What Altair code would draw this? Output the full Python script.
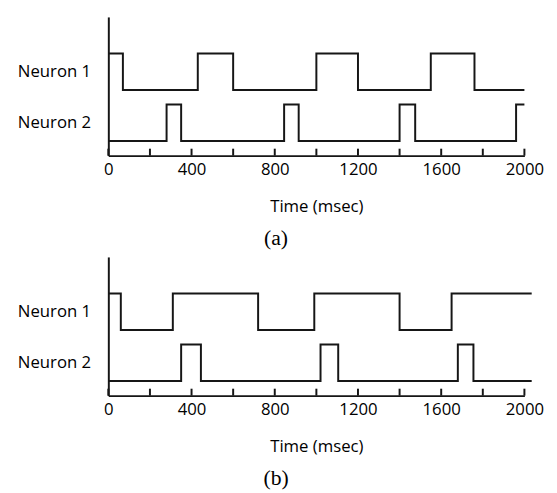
import altair as alt
import pandas as pd

# ---- data ----
TICK_TIMES = [0, 200, 400, 600, 800, 1000, 1200, 1400, 1600, 1800, 2000]
TICK_LABELS = [0, 400, 800, 1200, 1600, 2000]
NEURON_LABELS = ["Neuron 1", "Neuron 2"]
LABEL_LEVELS = [2.3, 0.9]          # vertical centre of each neuron trace
N1_LEVELS = [1.8, 2.8]             # low, high
N2_LEVELS = [0.4, 1.4]             # low, high

# panel (a): transition times (msec)
a_n1_start_high = True
a_n1_edges = [70, 430, 600, 1000, 1200, 1550, 1760]
a_n1_end = 2000
a_n2_start_high = False
a_n2_edges = [280, 350, 845, 915, 1400, 1475, 1960]
a_n2_end = 2000

# panel (b)
b_n1_start_high = True
b_n1_edges = [60, 310, 720, 990, 1400, 1650]
b_n1_end = 2035
b_n2_start_high = False
b_n2_edges = [350, 445, 1020, 1105, 1680, 1755]
b_n2_end = 2035

FONT = "Open Sans"
INK = "#161616"
TEXT = "#000000"


def trace(name, start_high, edges, end, levels):
    lo, hi = levels
    state = start_high
    rows = [(0, hi if state else lo)]
    for e in edges:
        rows.append((e, hi if state else lo))
        state = not state
        rows.append((e, hi if state else lo))
    rows.append((end, hi if state else lo))
    return pd.DataFrame({"t": [r[0] for r in rows], "v": [r[1] for r in rows],
                         "i": list(range(len(rows))), "neuron": name})


tick_df = pd.DataFrame({"t": TICK_TIMES, "y0": [0.0] * len(TICK_TIMES),
                        "y1": [0.19] * len(TICK_TIMES)})


def panel(df, letter):
    x = alt.X("t:Q", scale=alt.Scale(domain=[0, 2000], nice=False, zero=False),
              axis=alt.Axis(values=TICK_LABELS, title="Time (msec)", grid=False,
                            ticks=False, domainColor=INK, domainWidth=2,
                            labelFont=FONT, labelFontSize=17, labelColor=TEXT,
                            labelPadding=6, labelFlush=False, labelOverlap=False,
                            titleFont=FONT, titleFontSize=17, titleFontWeight="normal",
                            titleColor=TEXT, titlePadding=22, format="d"))
    y = alt.Y("v:Q", scale=alt.Scale(domain=[0, 3.8], nice=False, zero=False),
              axis=alt.Axis(values=LABEL_LEVELS, title=None, grid=False, ticks=False,
                            labelExpr="datum.value > 2 ? '" + NEURON_LABELS[0] + "' : '" + NEURON_LABELS[1] + "'",
                            domainColor=INK, domainWidth=2,
                            labelFont=FONT, labelFontSize=17, labelColor=TEXT,
                            labelPadding=18))
    lines = alt.Chart(df).mark_line(color=INK, strokeWidth=2, interpolate="linear").encode(
        x=x, y=y, detail="neuron:N", order="i:Q")
    ticks = alt.Chart(tick_df).mark_rule(color=INK, strokeWidth=2).encode(
        x="t:Q", y="y0:Q", y2="y1:Q")
    return alt.layer(lines, ticks).properties(
        width=423, height=141,
        title=alt.TitleParams(letter, orient="bottom", anchor="middle", font="Liberation Serif",
                              fontSize=22, fontWeight="normal", color=TEXT, dx=-41, offset=14))


df_a = pd.concat([trace(NEURON_LABELS[0], a_n1_start_high, a_n1_edges, a_n1_end, N1_LEVELS),
                  trace(NEURON_LABELS[1], a_n2_start_high, a_n2_edges, a_n2_end, N2_LEVELS)])
df_b = pd.concat([trace(NEURON_LABELS[0], b_n1_start_high, b_n1_edges, b_n1_end, N1_LEVELS),
                  trace(NEURON_LABELS[1], b_n2_start_high, b_n2_edges, b_n2_end, N2_LEVELS)])

chart = alt.vconcat(panel(df_a, "(a)"), panel(df_b, "(b)"), spacing=6).properties(
    padding={"left": 8, "top": 4, "right": 5, "bottom": 5}, background="white"
).configure_view(stroke="transparent")

chart.save("out.html", embed_options={"renderer": "svg", "actions": False})
